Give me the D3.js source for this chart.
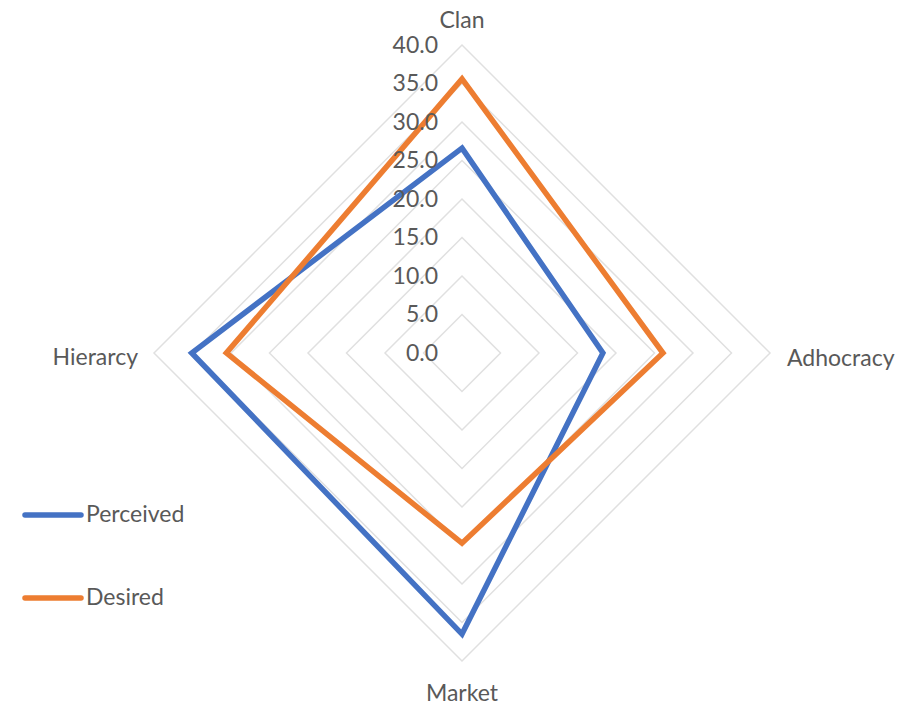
<!DOCTYPE html>
<html><head><meta charset="utf-8">
<script src="https://cdn.jsdelivr.net/npm/d3@7"></script>
<style>body{margin:0;background:#fff}svg{display:block}text{font-family:Lato,"Open Sans",sans-serif;fill:#595959}</style>
</head><body>
<svg id="c" width="900" height="707"></svg>
<script>
const categories = ["Clan", "Adhocracy", "Market", "Hierarcy"];
const perceived = [26.6, 18.3, 36.5, 35.1];
const desired = [35.6, 26.1, 24.7, 30.6];
const tickValues = [0, 5, 10, 15, 20, 25, 30, 35, 40];
const seriesNames = ["Perceived", "Desired"];
const colors = ["#4472C4", "#ED7D31"];

const svg = d3.select("#c");
const cx = 462, cy = 353, R = 308;
const r = d3.scaleLinear().domain([0, 40]).range([0, R]);
const angle = i => i * 2 * Math.PI / categories.length;
const pt = (v, i) => [cx + r(v) * Math.sin(angle(i)), cy - r(v) * Math.cos(angle(i))];
const line = d3.line().curve(d3.curveLinearClosed);

// grid
svg.append("g").selectAll("path").data(tickValues.slice(1)).join("path")
  .attr("d", t => line(categories.map((c, i) => pt(t, i))))
  .attr("fill", "none").attr("stroke", "#e0e0e0").attr("stroke-width", 1.5);

// series
[perceived, desired].forEach((s, k) => {
  svg.append("path").attr("d", line(s.map((v, i) => pt(v, i))))
    .attr("fill", "none").attr("stroke", colors[k]).attr("stroke-width", 5.5)
    .attr("stroke-linejoin", "miter");
});

// tick labels
svg.append("g").selectAll("text").data(tickValues).join("text")
  .attr("x", 438).attr("y", t => cy - r(t) + 2)
  .attr("text-anchor", "end").attr("dominant-baseline", "middle")
  .style("font-size", "23px").text(t => t.toFixed(1));

// category labels
const labelPos = [
  {x: cx, y: 28, a: "middle"},
  {x: 787, y: 366, a: "start"},
  {x: cx, y: 701, a: "middle"},
  {x: 138, y: 365, a: "end"}
];
categories.forEach((c, i) => {
  svg.append("text").attr("x", labelPos[i].x).attr("y", labelPos[i].y)
    .attr("text-anchor", labelPos[i].a).style("font-size", "23px").text(c);
});

// legend
const legY = [515, 598];
seriesNames.forEach((n, k) => {
  svg.append("line").attr("x1", 25).attr("x2", 81).attr("y1", legY[k]).attr("y2", legY[k])
    .attr("stroke", colors[k]).attr("stroke-width", 5.5).attr("stroke-linecap", "round");
  svg.append("text").attr("x", 86).attr("y", legY[k] + 1).attr("dominant-baseline", "middle")
    .style("font-size", "23px").text(n);
});
</script>
</body></html>
